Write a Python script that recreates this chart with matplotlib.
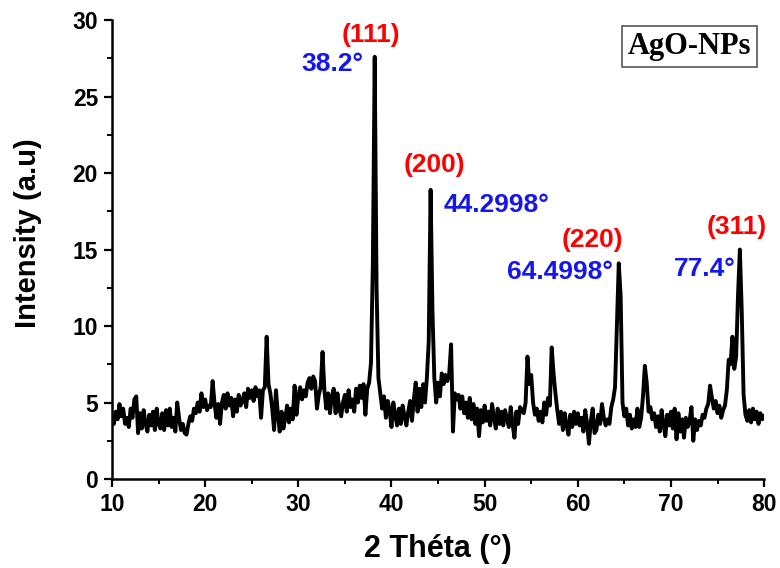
import matplotlib

matplotlib.use("Agg")

import matplotlib.pyplot as plt
import numpy as np

# 2-theta grid, 0.2 deg step from 10 to 80
two_theta = np.round(np.arange(10.0, 80.01, 0.2), 1)

# intensity, one row per 2 degrees
intensity = [
    4.0, 3.6, 4.4, 3.9, 4.9, 4.1, 4.6, 3.6, 4.0, 3.4,   # 10
    4.6, 4.0, 5.2, 5.4, 3.0, 4.3, 3.3, 4.5, 3.6, 3.1,   # 12
    4.2, 3.5, 4.4, 3.2, 4.6, 3.6, 3.3, 4.3, 3.2, 4.5,   # 14
    3.5, 4.6, 3.4, 4.0, 3.1, 5.0, 4.0, 3.2, 3.6, 3.0,   # 16
    2.9, 3.6, 4.1, 3.8, 4.6, 4.3, 5.0, 4.4, 5.6, 4.7,   # 18
    5.2, 4.5, 4.8, 4.7, 6.4, 5.0, 4.0, 4.9, 3.6, 5.0,   # 20
    5.5, 4.6, 5.6, 4.8, 5.3, 4.1, 5.2, 4.4, 5.5, 4.8,   # 22
    5.1, 5.6, 4.7, 5.9, 5.3, 5.8, 5.1, 6.0, 5.4, 5.8,   # 24
    4.0, 5.8, 6.0, 9.3, 6.2, 5.6, 4.6, 3.2, 5.8, 4.3,   # 26
    3.1, 4.4, 3.3, 4.0, 4.8, 3.7, 4.6, 3.9, 6.1, 4.2,   # 28
    5.4, 6.0, 5.2, 5.8, 5.4, 6.3, 6.6, 5.9, 6.7, 6.4,   # 30
    4.6, 5.5, 6.0, 8.3, 5.8, 4.6, 5.6, 4.3, 5.4, 5.9,   # 32
    4.3, 5.6, 4.6, 4.1, 5.0, 5.5, 4.4, 5.8, 4.7, 5.2,   # 34
    4.4, 5.9, 5.0, 6.1, 5.3, 6.2, 4.2, 5.9, 6.3, 7.6,   # 36
    14.0, 27.6, 12.5, 6.6, 5.6, 4.6, 5.4, 4.0, 5.1, 4.5,  # 38
    3.4, 5.0, 4.2, 3.5, 4.6, 3.6, 4.8, 4.1, 3.5, 4.4,   # 40
    5.1, 3.8, 5.2, 6.3, 4.4, 5.9, 4.7, 6.2, 5.0, 6.6,   # 42
    9.0, 18.9, 11.0, 6.6, 5.0, 6.3, 5.4, 6.9, 6.2, 6.8,   # 44
    6.4, 6.9, 8.8, 3.1, 5.6, 5.2, 5.5, 4.6, 5.4, 4.3,   # 46
    5.0, 4.0, 5.3, 3.9, 4.9, 3.6, 4.6, 2.8, 4.5, 3.7,   # 48
    4.8, 3.8, 4.4, 3.5, 4.9, 4.0, 3.3, 4.6, 3.6, 4.4,   # 50
    3.5, 4.5, 3.9, 3.4, 4.7, 3.6, 2.7, 4.4, 3.6, 4.7,   # 52
    4.5, 4.3, 5.0, 8.0, 6.2, 6.8, 5.0, 4.2, 4.6, 3.8,   # 54
    4.4, 3.7, 5.0, 4.2, 5.3, 4.8, 8.6, 6.9, 5.6, 4.5,   # 56
    3.6, 4.4, 3.2, 4.3, 3.5, 2.9, 4.2, 3.4, 4.4, 3.6,   # 58
    4.3, 3.5, 4.0, 3.1, 4.5, 3.6, 2.3, 3.8, 4.6, 3.0,   # 60
    3.2, 4.2, 3.6, 4.9, 4.0, 3.5, 3.9, 3.6, 4.7, 5.2,   # 62
    6.0, 10.0, 14.1, 12.0, 5.0, 4.1, 4.6, 3.5, 4.2, 3.3,  # 64
    3.9, 3.4, 4.6, 3.4, 4.0, 5.4, 7.4, 6.3, 4.4, 4.7,   # 66
    3.9, 4.3, 3.4, 4.1, 3.1, 4.5, 3.6, 2.8, 4.2, 3.5,   # 68
    4.4, 3.3, 4.6, 2.6, 4.3, 3.1, 3.9, 2.7, 4.0, 3.4,   # 70
    3.8, 4.7, 2.5, 3.9, 3.2, 3.8, 3.5, 4.2, 4.0, 4.6,   # 72
    4.9, 6.1, 5.3, 4.6, 5.1, 4.3, 4.8, 4.0, 4.5, 4.8,   # 74
    5.8, 7.8, 7.5, 9.3, 7.2, 8.0, 12.0, 15.0, 11.0, 5.5,  # 76
    4.2, 3.8, 4.5, 3.7, 4.6, 3.9, 4.4, 3.6, 4.3, 3.9,   # 78
    4.1,                                                # 80
]

planes = ["(111)", "(200)", "(220)", "(311)"]
plane_pos = [(37.8, 29.0), (44.6, 20.5), (61.6, 15.6), (77.1, 16.5)]
angle_labels = ["38.2°", "44.2998°", "64.4998°", "77.4°"]
angle_pos = [(33.7, 27.1), (51.3, 17.9), (58.1, 13.5), (73.6, 13.7)]

fig = plt.figure(figsize=(7.8, 5.68), dpi=100)
ax = fig.add_axes([0.1436, 0.1567, 0.836, 0.808])

ax.plot(two_theta, intensity, color="black", lw=2.8, solid_joinstyle="round")

ax.set_xlim(10, 80)
ax.set_ylim(0, 30)
ax.set_xticks(range(10, 81, 10))
ax.set_yticks(range(0, 31, 5))
ax.set_xticks(range(15, 80, 10), minor=True)
ax.set_yticks(np.arange(2.5, 30, 5), minor=True)

for side in ("top", "right"):
    ax.spines[side].set_visible(False)
for side in ("left", "bottom"):
    ax.spines[side].set_linewidth(1.8)

ax.tick_params(which="major", direction="out", length=6, width=1.6,
               labelsize=16.5, pad=4)
ax.tick_params(which="minor", direction="out", length=3.5, width=1.4)
for lab in ax.get_xticklabels() + ax.get_yticklabels():
    lab.set_fontfamily("Liberation Sans")
    lab.set_fontweight("bold")

ax.set_xlabel("2 Théta (°)", fontsize=22, fontweight="bold",
              family="Liberation Sans", labelpad=13)
ax.set_ylabel("Intensity (a.u)", fontsize=21, fontweight="bold",
              family="Liberation Sans")
ax.yaxis.set_label_coords(-0.107, 0.535)

for text, (x, y) in zip(planes, plane_pos):
    ax.text(x, y, text, color="#ff0000", fontsize=19, fontweight="bold",
            family="Liberation Sans", ha="center", va="center")
for text, (x, y) in zip(angle_labels, angle_pos):
    ax.text(x, y, text, color="#1515ee", fontsize=19, fontweight="bold",
            family="Liberation Sans", ha="center", va="center")

ax.text(72.0, 28.25, "AgO-NPs", fontsize=22, fontweight="bold",
        family="Liberation Serif", ha="center", va="center",
        bbox=dict(boxstyle="square,pad=0.2", facecolor="white",
                  edgecolor="#555555", linewidth=1.2))

fig.savefig("out.png", dpi=100)
plt.close(fig)
